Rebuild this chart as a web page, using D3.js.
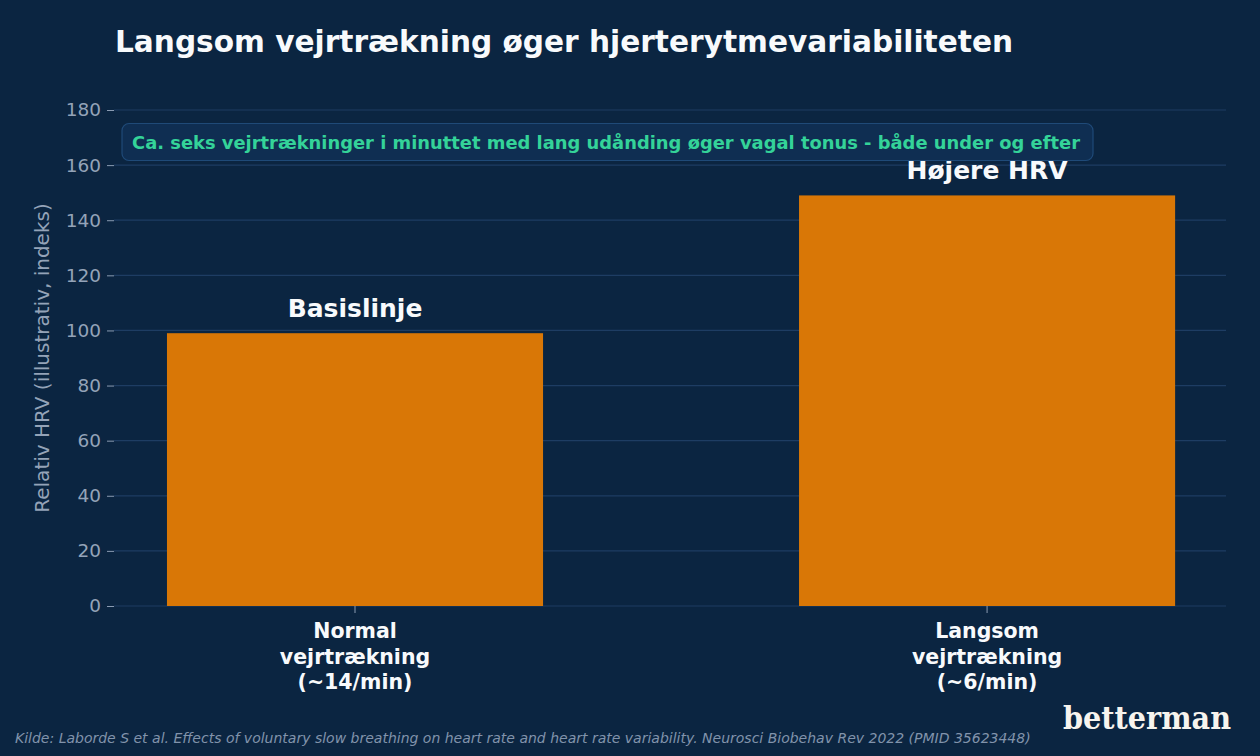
<!DOCTYPE html>
<html>
<head>
<meta charset="utf-8">
<script src="https://cdn.jsdelivr.net/npm/d3@7"></script>
<style>
  html, body { margin: 0; padding: 0; background: #0b2541; }
  svg { display: block; }
</style>
</head>
<body>
<div id="chart"></div>
<script>
var categories = [["Normal", "vejrtrækning", "(~14/min)"], ["Langsom", "vejrtrækning", "(~6/min)"]];
var values = [99, 149];
var barLabels = ["Basislinje", "Højere HRV"];
var yTicks = [0, 20, 40, 60, 80, 100, 120, 140, 160, 180];

var width = 1260, height = 756;
var margin = {left: 114, right: 34, top: 110, bottom: 150};
var bg = "#0b2541";

var svg = d3.select("#chart").append("svg")
	.attr("width", width)
	.attr("height", height)
	.style("background", bg);

var xScale = d3.scaleLinear()
	.domain([-0.3813, 1.378])
	.range([margin.left, width - margin.right]);
var yScale = d3.scaleLinear()
	.domain([0, 180])
	.range([height - margin.bottom, margin.top]);
var barWidth = 0.595;

// gridlines
svg.append("g")
	.selectAll("line")
	.data(yTicks)
	.enter()
	.append("line")
		.attr("x1", margin.left)
		.attr("x2", width - margin.right)
		.attr("y1", function(d) { return yScale(d); })
		.attr("y2", function(d) { return yScale(d); })
		.attr("stroke", "#1e3d63")
		.attr("stroke-width", 1.2);

// y axis
var yAxis = d3.axisLeft(yScale).tickValues(yTicks).tickSize(7).tickPadding(6);
var yG = svg.append("g")
	.attr("transform", "translate(" + margin.left + ",0)")
	.call(yAxis);
yG.select(".domain").remove();
yG.selectAll(".tick line").attr("stroke", "#8a9bb2").attr("stroke-width", 1);
yG.selectAll(".tick text")
	.attr("fill", "#94a3b8")
	.attr("font-family", "DejaVu Sans")
	.attr("font-size", "18.5px");

svg.append("text")
	.attr("transform", "translate(49," + yScale(90) + ") rotate(-90)")
	.attr("text-anchor", "middle")
	.attr("fill", "#94a3b8")
	.attr("font-family", "DejaVu Sans")
	.attr("font-size", "20px")
	.text("Relativ HRV (illustrativ, indeks)");

// bars
svg.append("g")
	.selectAll("rect")
	.data(values)
	.enter()
	.append("rect")
		.attr("x", function(d, i) { return xScale(i - barWidth / 2); })
		.attr("width", function(d, i) { return xScale(i + barWidth / 2) - xScale(i - barWidth / 2); })
		.attr("y", function(d) { return yScale(d); })
		.attr("height", function(d) { return yScale(0) - yScale(d); })
		.attr("fill", "#d97706");

svg.append("g")
	.selectAll("text")
	.data(values)
	.enter()
	.append("text")
		.attr("x", function(d, i) { return xScale(i); })
		.attr("y", function(d) { return yScale(d) - 16; })
		.attr("text-anchor", "middle")
		.attr("fill", "#f8fafc")
		.attr("font-family", "DejaVu Sans")
		.attr("font-weight", "bold")
		.attr("font-size", "25px")
		.text(function(d, i) { return barLabels[i]; });

// x axis
var xG = svg.append("g")
	.attr("transform", "translate(0," + yScale(0) + ")");
xG.selectAll("line")
	.data(categories)
	.enter()
	.append("line")
		.attr("x1", function(d, i) { return xScale(i); })
		.attr("x2", function(d, i) { return xScale(i); })
		.attr("y1", 0)
		.attr("y2", 7)
		.attr("stroke", "#8a9bb2");
xG.selectAll("text")
	.data(categories)
	.enter()
	.append("text")
		.attr("x", function(d, i) { return xScale(i); })
		.attr("y", 32)
		.attr("text-anchor", "middle")
		.attr("fill", "#f8fafc")
		.attr("font-family", "DejaVu Sans")
		.attr("font-weight", "bold")
		.attr("font-size", "20.5px")
		.each(function(d) {
			var t = d3.select(this);
			d.forEach(function(line, j) {
				t.append("tspan")
					.attr("x", t.attr("x"))
					.attr("dy", j === 0 ? 0 : 25.5)
					.text(line);
			});
		});

// annotation box
var note = svg.append("g");
note.append("rect")
	.attr("x", 122)
	.attr("y", 123.5)
	.attr("width", 971)
	.attr("height", 37)
	.attr("rx", 7)
	.attr("fill", "#0f2e52")
	.attr("stroke", "#1f4a78")
	.attr("stroke-width", 1.2);
note.append("text")
	.attr("x", 132)
	.attr("y", 148.5)
	.attr("fill", "#34d399")
	.attr("font-family", "DejaVu Sans")
	.attr("font-weight", "bold")
	.attr("font-size", "17.9px")
	.text("Ca. seks vejrtrækninger i minuttet med lang udånding øger vagal tonus - både under og efter");

// title
svg.append("text")
	.attr("x", 115)
	.attr("y", 52)
	.attr("fill", "#f8fafc")
	.attr("font-family", "DejaVu Sans")
	.attr("font-weight", "bold")
	.attr("font-size", "29.6px")
	.text("Langsom vejrtrækning øger hjerterytmevariabiliteten");

// footer
svg.append("text")
	.attr("x", 15)
	.attr("y", 743)
	.attr("fill", "#8193ab")
	.attr("font-family", "DejaVu Sans")
	.attr("font-style", "italic")
	.attr("font-size", "14px")
	.text("Kilde: Laborde S et al. Effects of voluntary slow breathing on heart rate and heart rate variability. Neurosci Biobehav Rev 2022 (PMID 35623448)");

svg.append("text")
	.attr("x", 1063)
	.attr("y", 729)
	.attr("fill", "#f7f4ee")
	.attr("font-family", "DejaVu Serif")
	.attr("font-weight", "bold")
	.attr("font-size", "32px")
	.attr("textLength", 168)
	.attr("lengthAdjust", "spacingAndGlyphs")
	.text("betterman");
</script>
</body>
</html>
